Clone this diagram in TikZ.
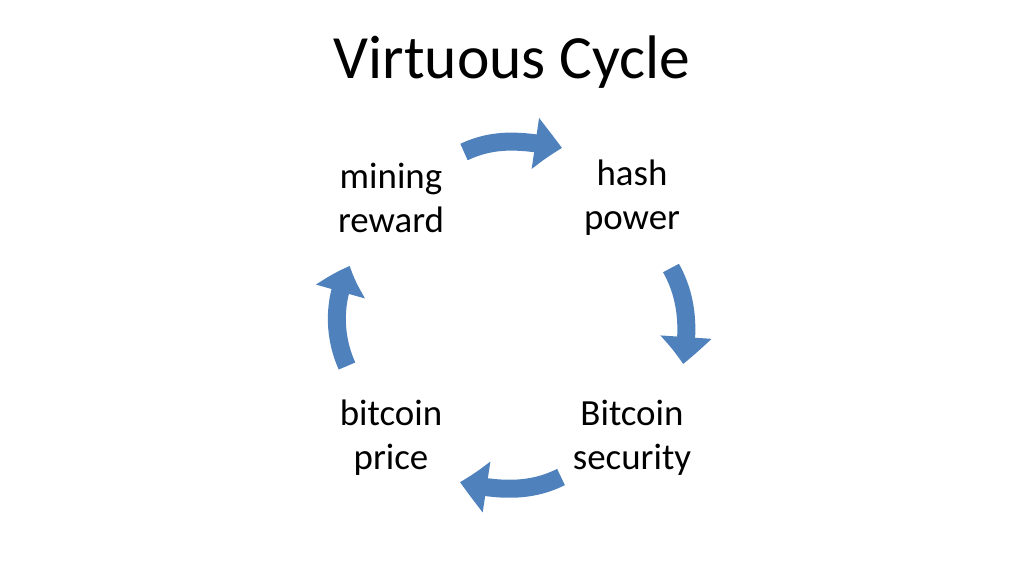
\documentclass[tikz,border=0pt]{standalone}
\usepackage{fontspec}
\setmainfont{Carlito}
\usepackage{xcolor}
\usetikzlibrary{arrows.meta,bending}
\definecolor{cycleblue}{HTML}{4F81BD}
\tikzset{
  label/.style={align=center, font=\fontsize{21}{25}\selectfont},
  cyclearrow/.style={draw=cycleblue, line width=0.36cm,
    -{Triangle[length=0.55cm,width=0.98cm,bend]}}
}
\begin{document}
\begin{tikzpicture}[x=0.02cm, y=-0.02cm]
\useasboundingbox (0,0) rectangle (1024,576);

\node (title) at (512,62) {\fontsize{35}{40}\selectfont Virtuous Cycle};

\node (reward) [label] at (391,198) {mining\\reward};
\node (power) [label] at (632,198) {hash\\power};
\node (security) [label] at (632,438) {Bitcoin\\security};
\node (price) [label] at (391,438) {bitcoin\\price};

\coordinate (rewardout) at (464,152);
\coordinate (powerin) at (562,148);
\coordinate (powerout) at (671,268);
\coordinate (securityin) at (683,364);
\coordinate (securityout) at (561,477);
\coordinate (pricein) at (460,482);
\coordinate (priceout) at (347,366);
\coordinate (rewardin) at (350,266);

\draw[cyclearrow] (rewardout) .. controls (490,140) and (515,138) .. (powerin);
\draw[cyclearrow] (powerout) .. controls (686,295) and (690,325) .. (securityin);
\draw[cyclearrow] (securityout) .. controls (535,490) and (505,493) .. (pricein);
\draw[cyclearrow] (priceout) .. controls (333,335) and (333,298) .. (rewardin);
\end{tikzpicture}
\end{document}
